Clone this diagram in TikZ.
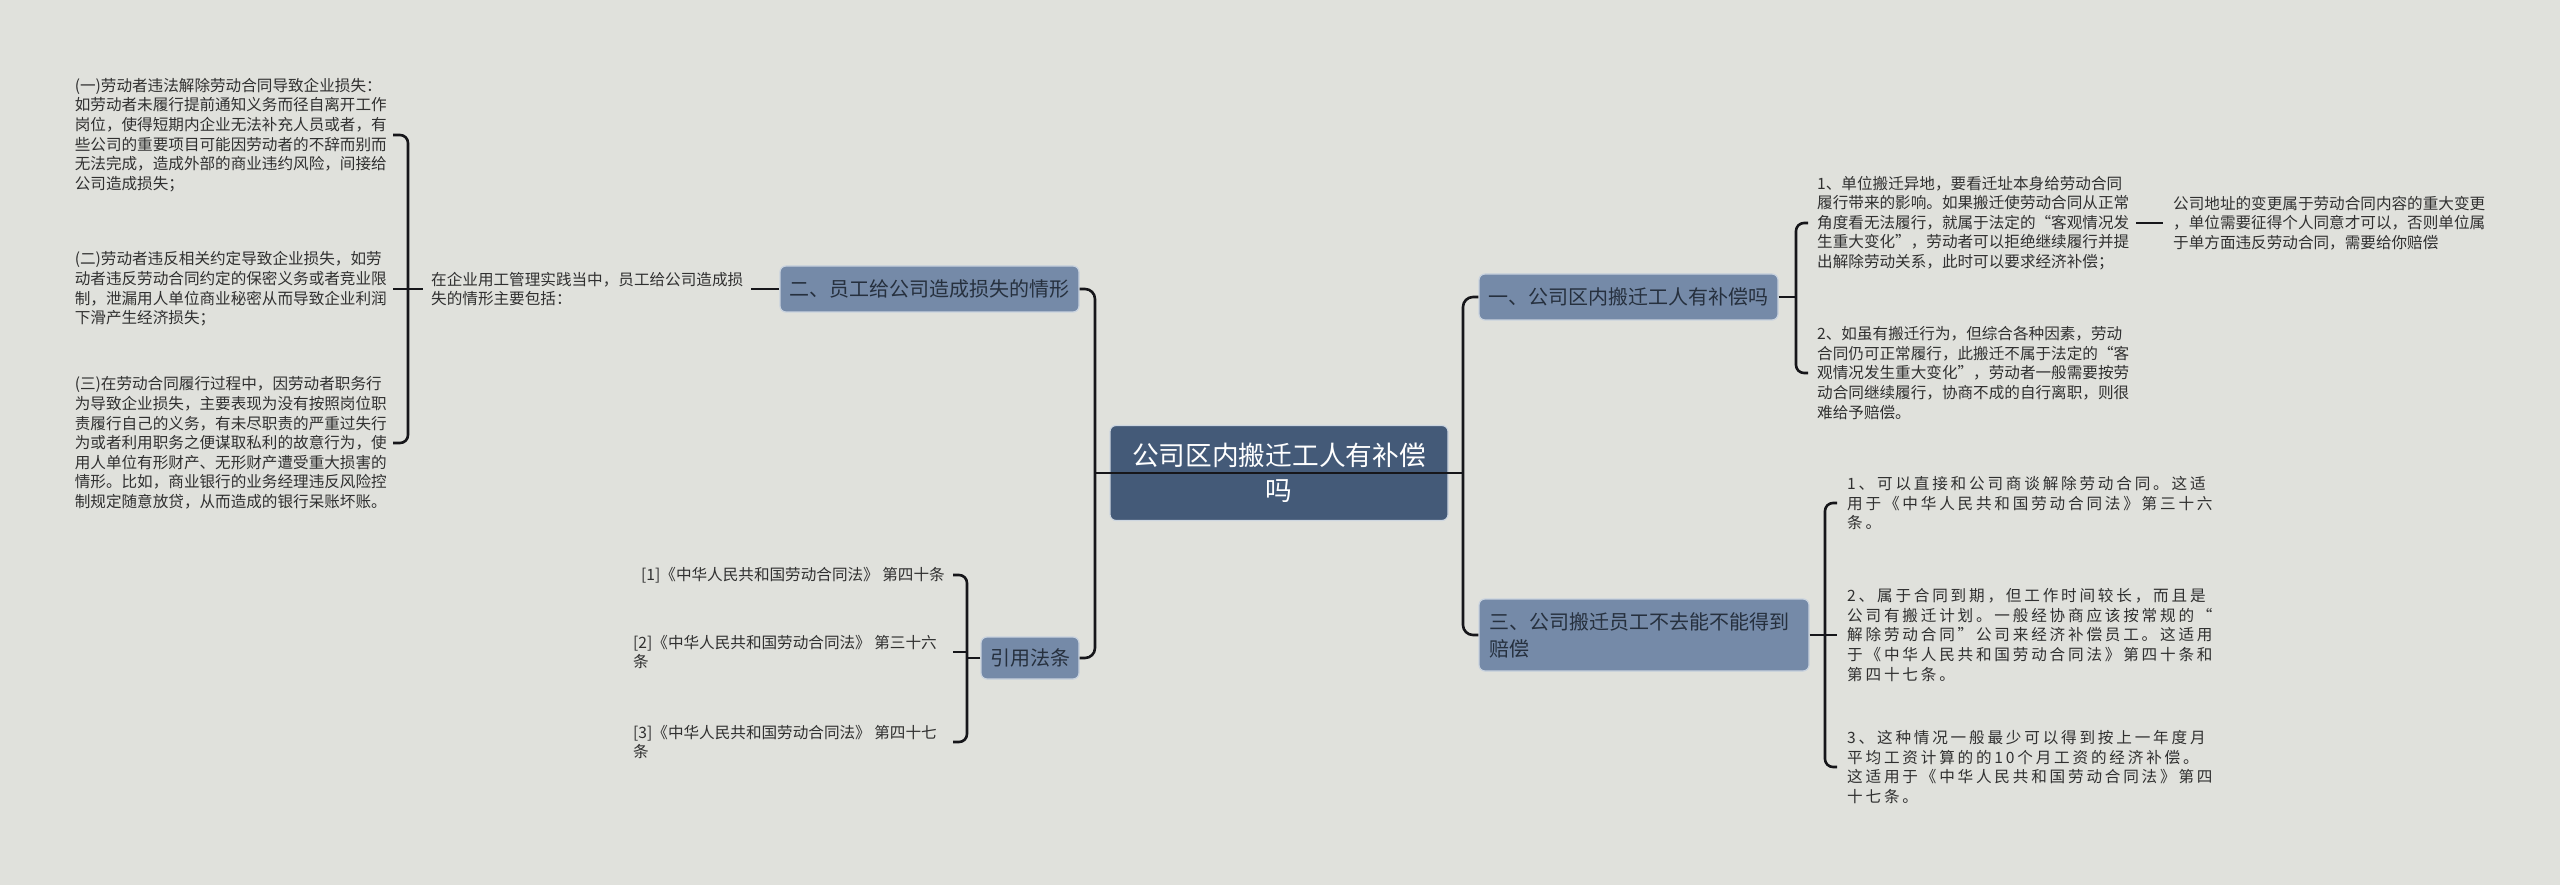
\documentclass[tikz,border=0pt]{standalone}
\usepackage{fontspec}
\setmainfont{Noto Sans CJK SC}
\newfontfamily\cjkwide{Noto Sans CJK SC}[LetterSpace=18]
\usetikzlibrary{calc}
\definecolor{bgc}{RGB}{224,225,220}
\definecolor{rootc}{RGB}{68,90,120}
\definecolor{rootb}{RGB}{205,214,224}
\definecolor{topicc}{RGB}{117,138,168}
\definecolor{topicb}{RGB}{200,210,222}
\definecolor{topict}{RGB}{38,48,62}
\definecolor{leaft}{RGB}{48,48,48}
\definecolor{linec}{RGB}{22,22,26}
\tikzset{
  conn/.style={draw=linec, line width=2.6pt},
  rootbox/.style={fill=rootc, draw=rootb, line width=1.2pt, rounded corners=6pt, text=white,
    font=\fontsize{26.7}{35}\selectfont, align=center, minimum width=338pt, minimum height=95pt, inner sep=0pt},
  topic/.style={fill=topicc, draw=topicb, line width=1.2pt, rounded corners=6pt, text=topict,
    font=\fontsize{20}{27}\selectfont, inner sep=0pt, minimum height=46pt},
  leaf/.style={text=leaft, font=\fontsize{15.6}{19.6}\selectfont, align=left, inner sep=0pt},
  wideleaf/.style={text=leaft, font=\cjkwide\fontsize{15.6}{19.6}\selectfont, align=left, inner sep=0pt},
}
\begin{document}
\begin{tikzpicture}[x=1pt,y=-1pt]
\useasboundingbox (0,0) rectangle (2560,885);
\fill[bgc] (0,0) rectangle (2560,885);

% main nodes
\node[rootbox] (c) at (1279,473) {公司区内搬迁工人有补偿\\吗};
\node[topic, minimum width=299pt] (n1) at (1628.5,297) {一、公司区内搬迁工人有补偿吗};
\node[topic, minimum width=299pt] (n2) at (929.5,289) {二、员工给公司造成损失的情形};
\node[topic, minimum width=98pt, minimum height=42pt] (nr) at (1030,658) {引用法条};
\node[topic, minimum width=330pt, minimum height=72pt, text width=310pt, align=left] (n3) at (1644,635) {三、公司搬迁员工不去能不能得到\\赔偿};

% left leaves
\node[leaf, anchor=east] (L1) at (387,135) {(一)劳动者违法解除劳动合同导致企业损失：\\如劳动者未履行提前通知义务而径自离开工作\\岗位，使得短期内企业无法补充人员或者，有\\些公司的重要项目可能因劳动者的不辞而别而\\无法完成，造成外部的商业违约风险，间接给\\公司造成损失；};
\node[leaf, anchor=east] (L2) at (387,289) {(二)劳动者违反相关约定导致企业损失，如劳\\动者违反劳动合同约定的保密义务或者竞业限\\制，泄漏用人单位商业秘密从而导致企业利润\\下滑产生经济损失；};
\node[leaf, anchor=east] (L3) at (387,443) {(三)在劳动合同履行过程中，因劳动者职务行\\为导致企业损失，主要表现为没有按照岗位职\\责履行自己的义务，有未尽职责的严重过失行\\为或者利用职务之便谋取私利的故意行为，使\\用人单位有形财产、无形财产遭受重大损害的\\情形。比如，商业银行的业务经理违反风险控\\制规定随意放贷，从而造成的银行呆账坏账。};
\node[leaf, anchor=west] (M) at (431,289) {在企业用工管理实践当中，员工给公司造成损\\失的情形主要包括：};

% references
\node[leaf, anchor=west] (R1) at (641,575) {[1]《中华人民共和国劳动合同法》 第四十条};
\node[leaf, anchor=west] (R2) at (633,652) {[2]《中华人民共和国劳动合同法》 第三十六\\条};
\node[leaf, anchor=west] (R3) at (633,742) {[3]《中华人民共和国劳动合同法》 第四十七\\条};

% right leaves (branch 1)
\node[leaf, anchor=west] (t11) at (1817,223) {1、单位搬迁异地，要看迁址本身给劳动合同\\履行带来的影响。如果搬迁使劳动合同从正常\\角度看无法履行，就属于法定的“客观情况发\\生重大变化”，劳动者可以拒绝继续履行并提\\出解除劳动关系，此时可以要求经济补偿；};
\node[leaf, anchor=west] (t12) at (1817,373) {2、如虽有搬迁行为，但综合各种因素，劳动\\合同仍可正常履行，此搬迁不属于法定的“客\\观情况发生重大变化”，劳动者一般需要按劳\\动合同继续履行，协商不成的自行离职，则很\\难给予赔偿。};
\node[leaf, anchor=west] (t13) at (2173,223) {公司地址的变更属于劳动合同内容的重大变更\\，单位需要征得个人同意才可以，否则单位属\\于单方面违反劳动合同，需要给你赔偿};

% right leaves (branch 3)
\node[wideleaf, anchor=west] (s1) at (1847,503) {1、可以直接和公司商谈解除劳动合同。这适\\用于《中华人民共和国劳动合同法》第三十六\\条。};
\node[wideleaf, anchor=west] (s2) at (1847,635) {2、属于合同到期，但工作时间较长，而且是\\公司有搬迁计划。一般经协商应该按常规的“\\解除劳动合同”公司来经济补偿员工。这适用\\于《中华人民共和国劳动合同法》第四十条和\\第四十七条。};
\node[wideleaf, anchor=west] (s3) at (1847,767) {3、这种情况一般最少可以得到按上一年度月\\平均工资计算的的10个月工资的经济补偿。\\这适用于《中华人民共和国劳动合同法》第四\\十七条。};

% junction coordinates
\coordinate (Lj) at (1095,473);
\coordinate (Rj) at (1463,473);
\coordinate (B2) at (408,289);
\coordinate (B1) at (1796,297);
\coordinate (B3) at (1825,635);
\coordinate (BR) at (967,658);
\coordinate (rt) at (953,0);

% trunk connectors
\draw[conn, rounded corners=10pt] (n2.east) -| (Lj) |- (nr.east);
\draw[conn, rounded corners=10pt] (n1.west) -| (Rj) |- (n3.west);
\draw[conn, line width=2pt] (Lj) -- (Rj);

% left branch
\draw[conn] ([xshift=8pt]M.east) -- (n2.west);
\draw[conn, rounded corners=8pt] ([xshift=6pt]L1.east) -| (B2) |- ([xshift=6pt]L3.east);
\draw[conn] ([xshift=6pt]L2.east) -- ([xshift=-8pt]M.west);

% references
\draw[conn] (nr.west) -- (BR);
\draw[conn, rounded corners=8pt] (R1.east -| rt) -| (BR) |- (R3.east -| rt);
\draw[conn] (R2.east -| rt) -- (R2.east -| BR);

% branch 1
\draw[conn] (n1.east) -- (B1);
\draw[conn, rounded corners=8pt] ([xshift=-9pt]t11.west) -| (B1) |- ([xshift=-9pt]t12.west);
\draw[conn] ([xshift=7pt]t11.east) -- ([xshift=-10pt]t13.west);

% branch 3
\draw[conn] (n3.east) -- ([xshift=-10pt]s2.west);
\draw[conn, rounded corners=8pt] ([xshift=-10pt]s1.west) -| (B3) |- ([xshift=-10pt]s3.west);
\end{tikzpicture}
\end{document}
